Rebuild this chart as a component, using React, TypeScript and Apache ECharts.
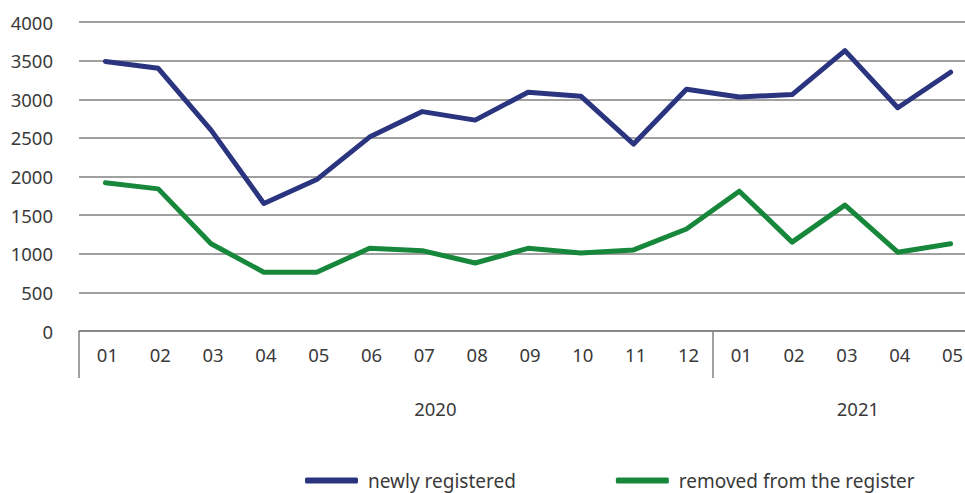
import React, { useEffect, useRef } from "react";
import * as echarts from "echarts";

const months = ["01", "02", "03", "04", "05", "06", "07", "08", "09", "10", "11", "12", "01", "02", "03", "04", "05"];
const yearLabels = ["", "", "", "", "", "", "2020", "", "", "", "", "", "", "", "2021", "", ""];
const newlyRegistered = [3490, 3400, 2600, 1650, 1960, 2510, 2840, 2730, 3090, 3040, 2420, 3130, 3030, 3060, 3630, 2890, 3350];
const removedFromRegister = [1920, 1840, 1130, 760, 760, 1070, 1040, 880, 1070, 1010, 1050, 1320, 1810, 1150, 1630, 1020, 1130];
const seriesNames = ["newly registered", "removed from the register"];
const yTicks = { min: 0, max: 4000, interval: 500 };

const FONT = "Noto Sans";
const FS = 18.5;

export default function App() {
  const ref = useRef<HTMLDivElement>(null);
  useEffect(() => {
    document.body.style.margin = "0";
    const chart = echarts.init(ref.current!, null, { renderer: "svg" });
    chart.setOption({
      animation: false,
      backgroundColor: "#ffffff",
      grid: { left: 79, top: 22, right: 13, height: 309, containLabel: false },
      legend: {
        left: 305,
        top: 471,
        padding: 0,
        itemGap: 100,
        itemWidth: 53,
        itemHeight: 6,
        icon: "roundRect",
        textStyle: { fontFamily: FONT, fontSize: 19, color: "#3a3a3a", padding: [0, 0, 0, 5] },
        data: seriesNames,
      },
      xAxis: [
        {
          type: "category",
          data: months,
          boundaryGap: true,
          axisLine: { show: true, lineStyle: { color: "#808080", width: 1.5 } },
          axisTick: {
            show: true,
            length: 47,
            interval: (i: number) => i === 0 || i === 12,
            lineStyle: { color: "#808080", width: 1.5 },
          },
          axisLabel: { interval: 0, margin: 14, padding: [0, 0, 0, 4], fontFamily: FONT, fontSize: FS, color: "#3a3a3a" },
        },
        {
          type: "category",
          data: yearLabels,
          position: "bottom",
          boundaryGap: true,
          axisLine: { show: false },
          axisTick: { show: false },
          axisLabel: {
            interval: 0,
            margin: 68,
            padding: [0, 0, 0, 26],
            fontFamily: FONT,
            fontSize: FS,
            color: "#3a3a3a",
          },
        },
      ],
      yAxis: {
        type: "value",
        min: yTicks.min,
        max: yTicks.max,
        interval: yTicks.interval,
        axisLine: { show: false },
        axisTick: { show: false },
        splitLine: { show: true, lineStyle: { color: "#808080", width: 1.5 } },
        axisLabel: {
          margin: 26,
          fontFamily: FONT,
          fontSize: FS,
          color: "#3a3a3a",
          formatter: (v: number) => String(v),
        },
      },
      series: [
        {
          name: seriesNames[0],
          type: "line",
          data: newlyRegistered,
          symbol: "none",
          color: "#2a347f",
          lineStyle: { width: 5, color: "#2a347f", cap: "round", join: "round" },
        },
        {
          name: seriesNames[1],
          type: "line",
          data: removedFromRegister,
          symbol: "none",
          color: "#17883b",
          lineStyle: { width: 5, color: "#17883b", cap: "round", join: "round" },
        },
      ],
    });
    return () => chart.dispose();
  }, []);
  return (
    <div style={{ width: 965, height: 493, overflow: "hidden", position: "relative" }}>
      <div ref={ref} style={{ width: 990, height: 493 }} />
    </div>
  );
}
